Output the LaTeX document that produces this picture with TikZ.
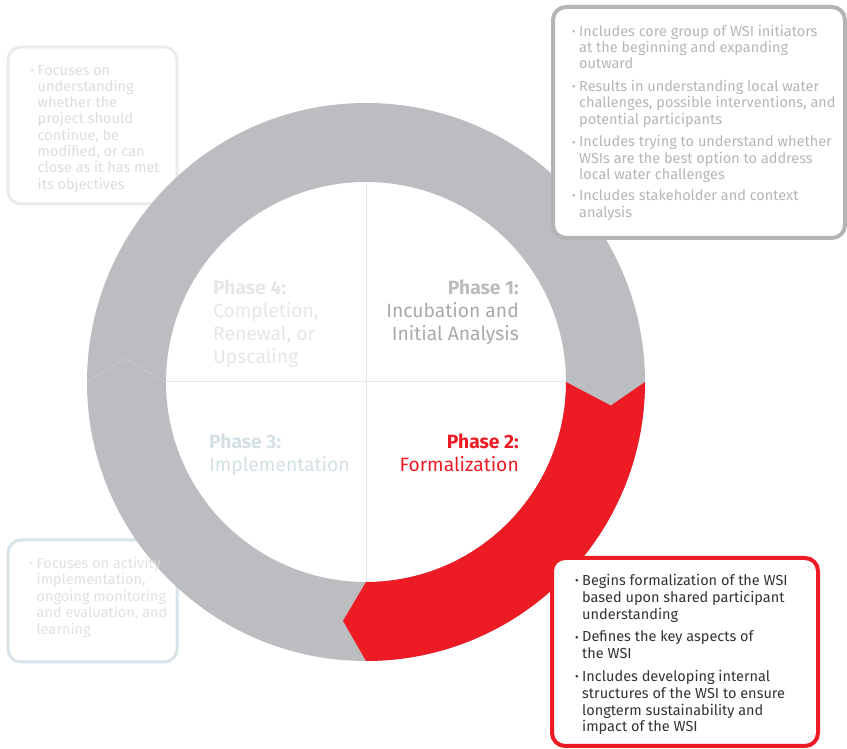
\documentclass[tikz,border=0pt]{standalone}
\usepackage{fontspec}
\setmainfont{Fira Sans}
\usepackage{xcolor}
\usetikzlibrary{calc}
\definecolor{ringgray}{HTML}{BCBDC0}
\definecolor{phred}{HTML}{ED1C24}
\definecolor{divgray}{HTML}{E6E7E8}
\definecolor{oneb}{HTML}{BBBCBE}
\definecolor{onet}{HTML}{A7A9AC}
\definecolor{fourt}{HTML}{E5E6E7}
\definecolor{threet}{HTML}{D4E0E5}
\definecolor{tlframe}{HTML}{EBEBEC}
\definecolor{tltext}{HTML}{DCDDDE}
\definecolor{blframe}{HTML}{D9E3E7}
\definecolor{bltext}{HTML}{DFE1E3}
\definecolor{trframe}{HTML}{B3B4B6}
\definecolor{trtext}{HTML}{B5B6B8}
\definecolor{brtext}{HTML}{333333}
\newcommand{\dotmark}{\makebox[7pt][l]{\raisebox{0.8pt}{\fontsize{11}{11}\selectfont\textbullet}}}
\tikzset{
  note/.style={anchor=north west, inner sep=0pt, font=\fontsize{14.5}{16.3}\selectfont},
  phase/.style={inner sep=0pt, font=\fontsize{19.3}{23}\selectfont},
  frame/.style={rounded corners=13pt, fill=white},
}
\begin{document}
\begin{tikzpicture}[x=1pt,y=1pt]
\useasboundingbox (0,0) rectangle (847,749);
\coordinate (c) at (366,367);

\draw[frame, draw=tlframe, line width=3pt] (8,702) rectangle (177,545);
\draw[frame, draw=blframe, line width=3pt] (8,209) rectangle (177,87);

\fill[ringgray, even odd rule] (c) circle (279pt) (c) circle (200pt);
\begin{scope}[shift={(c)}]
\fill[phred] (0:279pt) arc[start angle=0, end angle=-90, radius=279pt] -- (-95.5:240pt)
  -- (-90:200pt) arc[start angle=-90, end angle=0, radius=200pt] -- (-5.5:246pt) -- cycle;
\draw[ringgray!70!white, line width=0.4pt] (180:279pt) -- (174.5:242pt) -- (180:200pt);
\end{scope}
\draw[divgray, line width=1pt] ($(c)+(0,200)$) -- ($(c)+(0,-200)$);
\draw[divgray, line width=1pt] (166,367) -- (566,367);

\node[phase, anchor=north east, align=right] (ph1) at (519,469.5)
  {{\color{oneb}\bfseries Phase 1:}\\{\color{onet}Incubation and}\\{\color{onet}Initial Analysis}};
\node[phase, anchor=north east, align=right, text=phred] (ph2) at (519,315.5)
  {\bfseries Phase 2:\\Formalization};
\node[phase, anchor=north west, align=left, text=threet] (ph3) at (209,315.5)
  {\bfseries Phase 3:\\Implementation};
\node[phase, anchor=north west, align=left, text=fourt] (ph4) at (213,469.5)
  {\bfseries Phase 4:\\Completion,\\Renewal, or\\Upscaling};

\node[note, text=tltext] (tlnote) at (30.5,685.5) {\begin{tabular}{@{}l@{}l@{}}
\dotmark & Focuses on\\ & understanding\\ & whether the\\ & project should\\
 & continue, be\\ & modified, or can\\ & close as it has met\\ & its objectives
\end{tabular}};
\node[note, text=bltext, font=\fontsize{14.5}{16.5}\selectfont] (blnote) at (29.5,192.5) {\begin{tabular}{@{}l@{}l@{}}
\dotmark & Focuses on activity\\ & implementation,\\ & ongoing monitoring\\
 & and evaluation, and\\ & learning
\end{tabular}};

\draw[frame, draw=trframe, line width=4pt] (553,742) rectangle (845,511);
\node[note, text=trtext] (trnote) at (572,724.5) {\begin{tabular}{@{}l@{}l@{}}
\dotmark & Includes core group of WSI initiators\\ & at the beginning and expanding\\ & outward\\[6.5pt]
\dotmark & Results in understanding local water\\ & challenges, possible interventions, and\\ & potential participants\\[6.5pt]
\dotmark & Includes trying to understand whether\\ & WSIs are the best option to address\\ & local water challenges\\[5pt]
\dotmark & Includes stakeholder and context\\ & analysis
\end{tabular}};

\draw[frame, draw=phred, line width=4pt] (552,191) rectangle (818,3);
\node[note, text=brtext, font=\fontsize{14.5}{16.8}\selectfont] (brnote) at (575,175.5) {\begin{tabular}{@{}l@{}l@{}}
\dotmark & Begins formalization of the WSI\\ & based upon shared participant\\ & understanding\\[6pt]
\dotmark & Defines the key aspects of\\ & the WSI\\[6pt]
\dotmark & Includes developing internal\\ & structures of the WSI to ensure\\ & longterm sustainability and\\ & impact of the WSI
\end{tabular}};
\end{tikzpicture}
\end{document}
